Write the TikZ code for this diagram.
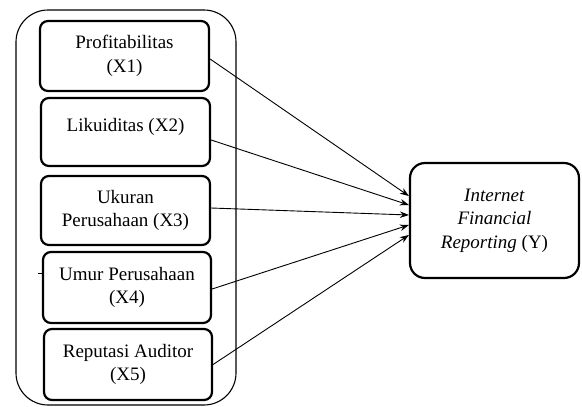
\documentclass[tikz,border=0pt]{standalone}
\usepackage{fontspec}
\setmainfont{Liberation Serif}
\usetikzlibrary{arrows.meta}
\begin{document}
\begin{tikzpicture}[x=1pt,y=-1pt,
  varbox/.style={draw, line width=2.2pt, rounded corners=8pt, align=center,
    font=\fontsize{19}{23.5}\selectfont, inner sep=0pt},
  groupbox/.style={draw, line width=1.1pt, rounded corners=32pt},
  ybox/.style={draw, line width=2.2pt, rounded corners=15pt, align=center,
    font=\fontsize{19}{23.5}\selectfont, inner sep=0pt},
  link/.style={line width=0.9pt, -{Stealth[length=9pt,width=6.5pt]}}]
\useasboundingbox (0,0) rectangle (582,407);
\node[groupbox, minimum width=220pt, minimum height=395pt] (grp) at (126,207.5) {};
\node[varbox, minimum width=169pt, minimum height=70pt] (b1) at (124.5,56) {Profitabilitas\\(X1)};
\node[varbox, minimum width=169pt, minimum height=68pt] (b2) at (125.5,132) {};
\node[font=\fontsize{19}{23.5}\selectfont] (t2) at (125.5,127) {Likuiditas (X2)};
\node[varbox, minimum width=169pt, minimum height=69pt] (b3) at (125.5,210.5) {Ukuran\\Perusahaan (X3)};
\node[varbox, minimum width=168pt, minimum height=71pt] (b4) at (127,287.5) {Umur Perusahaan\\(X4)};
\node[varbox, minimum width=168pt, minimum height=71pt] (b5) at (128,364.5) {Reputasi Auditor\\(X5)};
\node[ybox, minimum width=169pt, minimum height=115pt] (y) at (494.5,220.5) {\textit{Internet}\\\textit{Financial}\\\textit{Reporting} (Y)};
\coordinate (stub) at (38,273);
\draw[line width=0.8pt] (stub) -- (b4.west |- stub);
\draw[link] ([yshift=-3pt]b1.east) -- ([yshift=24.5pt]y.west);
\draw[link] ([yshift=-8pt]b2.east) -- ([yshift=15.5pt]y.west);
\draw[link] ([yshift=2.5pt]b3.east) -- ([yshift=5.5pt]y.west);
\draw[link] ([yshift=-1.5pt]b4.east) -- ([yshift=-4.5pt]y.west);
\draw[link] (b5.east) -- ([yshift=-14.5pt]y.west);
\end{tikzpicture}
\end{document}
